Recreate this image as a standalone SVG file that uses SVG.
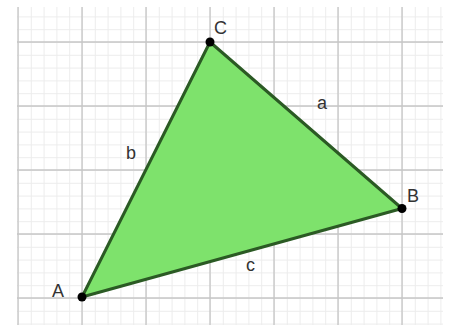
<svg xmlns="http://www.w3.org/2000/svg" width="449" height="325" viewBox="0 0 449 325">
<defs>
<style>
.minor{stroke:#ececec;stroke-width:1}
.major{stroke:#c6c6c6;stroke-width:1.3}
.lbl{font-family:"Liberation Sans",Arial,sans-serif;font-size:18px;fill:#333}
.pt{fill:#000}
</style>
<clipPath id="gc"><rect x="17" y="7" width="426" height="318"/></clipPath>
<pattern id="minorGrid" x="18" y="42" width="12.8" height="12.8" patternUnits="userSpaceOnUse">
<path d="M0.5 0V12.8M0 0.5H12.8" class="minor"/>
</pattern>
</defs>
<rect width="449" height="325" fill="#fff"/>
<g id="grid" clip-path="url(#gc)">
<rect x="17" y="7" width="426" height="318" fill="url(#minorGrid)"/>
<path class="major" d="M18 0V325M82 0V325M146 0V325M210 0V325M274 0V325M338 0V325M402 0V325M0 42H449M0 106H449M0 170H449M0 234H449M0 298H449"/>
</g>
<g id="triangle">
<polygon points="82,297 402,208.5 210,42" fill="#7ee26c" stroke="#2b5a24" stroke-width="3" stroke-linejoin="round"/>
</g>
<g id="connectors"></g>
<g id="A"><circle class="pt" cx="82" cy="297" r="4.5"/><text class="lbl" x="52" y="297">A</text></g>
<g id="B"><circle class="pt" cx="402" cy="208.5" r="4.5"/><text class="lbl" x="407" y="202">B</text></g>
<g id="C"><circle class="pt" cx="210" cy="42" r="4.5"/><text class="lbl" x="214" y="34">C</text></g>
<text class="lbl" x="317" y="109">a</text>
<text class="lbl" x="126" y="159">b</text>
<text class="lbl" x="246" y="271">c</text>
</svg>
